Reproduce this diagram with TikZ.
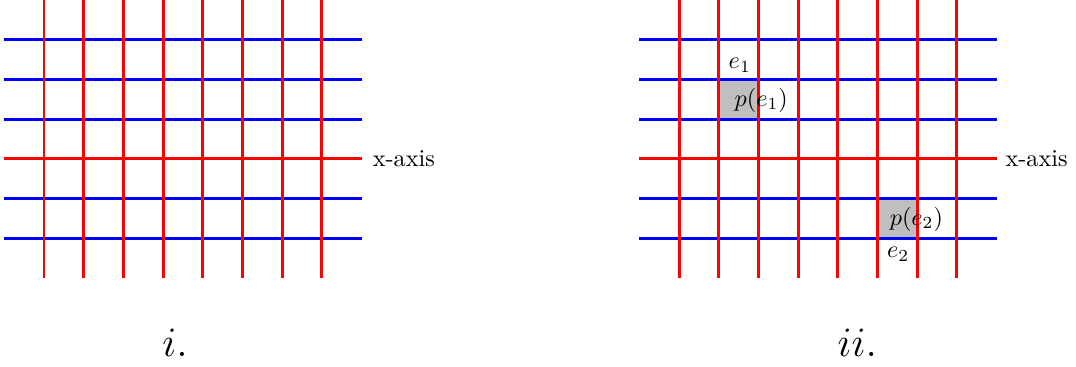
\documentclass[tikz,border=0pt]{standalone}
\usepackage{amsmath,amssymb}
\usepackage{xcolor}
\usepackage{tikz}
\usetikzlibrary{positioning, calc}

\begin{document}
\begin{tikzpicture}[
  x=0.576cm, y=0.576cm,
  hline/.style={blue, line width=1.2pt},
  axis/.style={red, line width=1.2pt},
  vline/.style={red, line width=1.2pt},
  cell/.style={fill=lightgray},
  lab/.style={inner sep=1pt},
  title/.style={font=\LARGE}
]
\useasboundingbox (-1.108,-5.244) rectangle (26.0,4);
% grid i.
\foreach \y in {3,2,1,-1,-2} \draw[hline] (-1,\y) -- (8,\y);
\draw[axis] (-1,0) coordinate (startA) -- (8,0) coordinate (endA);
\foreach \x in {0,...,7} \draw[vline] (\x,4) -- (\x,-3);
\node[anchor=west] (xaxisA) at ($(endA)+(0.07,0)$) {x-axis};
\node[title] (titleA) at (3.3,-4.63) {$i.$};
% grid ii.
\fill[cell] (17,1) rectangle (18,2);
\fill[cell] (21,-2) rectangle (22,-1);
\foreach \y in {3,2,1,-1,-2} \draw[hline] (15,\y) -- (24,\y);
\draw[axis] (15,0) coordinate (startB) -- (24,0) coordinate (endB);
\foreach \x in {16,...,23} \draw[vline] (\x,4) -- (\x,-3);
\node[anchor=west] (xaxisB) at ($(endB)+(0.01,0)$) {x-axis};
\node[title] (titleB) at (20.49,-4.63) {$ii.$};
% edges and their cells
\node[lab] (e1) at (17.53,2.36) {$e_1$};
\node[lab] (pe1) at (18.07,1.48) {$p(e_1)$};
\node[lab] (pe2) at (21.98,-1.52) {$p(e_2)$};
\node[lab] (e2) at (21.52,-2.4) {$e_2$};
\end{tikzpicture}
\end{document}
